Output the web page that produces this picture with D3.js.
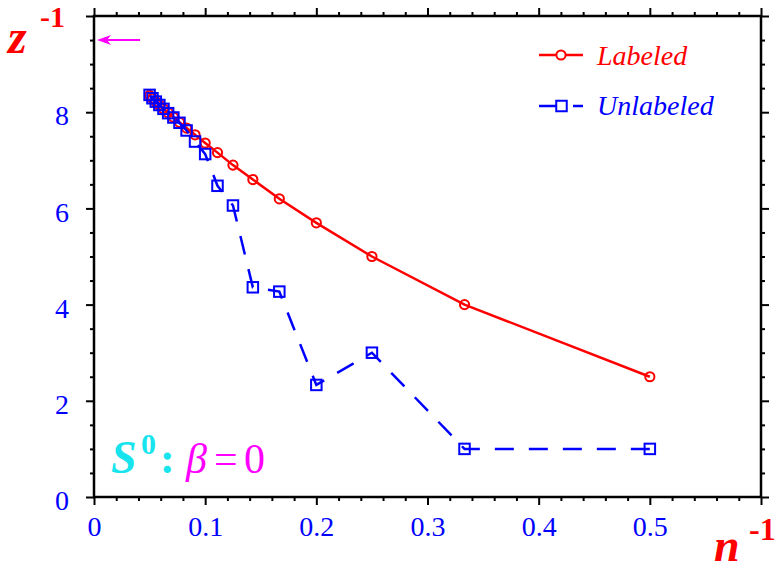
<!DOCTYPE html>
<html>
<head>
<meta charset="utf-8">
<script src="https://cdn.jsdelivr.net/npm/d3@7"></script>
<style>
  html, body { margin: 0; padding: 0; background: #fff; }
  svg { display: block; }
</style>
</head>
<body>
<svg id="chart" width="780" height="571"></svg>
<script>
// ---- data ----
const nInverse = [0.5, 0.3333, 0.25, 0.2, 0.1667, 0.1429, 0.125, 0.1111, 0.1, 0.0909,
                  0.0833, 0.0769, 0.0714, 0.0667, 0.0625, 0.0588, 0.0556, 0.0526, 0.05];
const labeledZ   = [2.5, 4.0, 5.0, 5.7, 6.2, 6.6, 6.9, 7.16, 7.36, 7.53,
                    7.67, 7.79, 7.9, 7.99, 8.07, 8.15, 8.22, 8.29, 8.35];
const unlabeledZ = [1.0, 1.0, 3.0, 2.33, 4.27, 4.36, 6.06, 6.47, 7.13, 7.39,
                    7.62, 7.78, 7.89, 7.98, 8.07, 8.15, 8.22, 8.29, 8.36];
const xMajorTicks = [0, 0.1, 0.2, 0.3, 0.4, 0.5];
const xTickLabels = ["0", "0.1", "0.2", "0.3", "0.4", "0.5"];
const yMajorTicks = [0, 2, 4, 6, 8];
const yTickLabels = ["0", "2", "4", "6", "8"];
const arrowValue = 9.5;
const seriesNames = ["Labeled", "Unlabeled"];

// ---- layout ----
const svg = d3.select("#chart");
const L = 94, R = 761, T = 16, B = 497;
const x = d3.scaleLinear().domain([0, 0.6]).range([L, R]);
const y = d3.scaleLinear().domain([0, 10]).range([B, T]);
const serif = "'Liberation Serif', 'Times New Roman', serif";
const BLUE = "#0000ff", RED = "#ff0000", MAG = "#ff00ff", CYAN = "#18e4ee";

const xMinor = d3.range(0, 0.6001, 0.02).filter(v => Math.abs(v * 10 - Math.round(v * 10)) > 1e-6);
const yMinor = d3.range(0, 10.001, 0.5).filter(v => Math.abs(v / 2 - Math.round(v / 2)) > 1e-6);

function styleAxis(g) {
  g.select(".domain").remove();
  g.selectAll(".tick line").attr("stroke", "#000").attr("stroke-width", 2);
}

// bottom major
svg.append("g").attr("transform", `translate(0,${B})`)
  .call(d3.axisBottom(x).tickValues(xMajorTicks).tickSize(8).tickPadding(11)
        .tickFormat((d, i) => xTickLabels[i]))
  .call(styleAxis)
  .call(g => g.selectAll("text").attr("fill", BLUE).style("font-family", serif).style("font-size", "28px"));
svg.append("g").attr("transform", `translate(0,${B})`)
  .call(d3.axisBottom(x).tickValues(xMinor).tickSize(4).tickFormat(""))
  .call(styleAxis);
// top (outward)
svg.append("g").attr("transform", `translate(0,${T})`)
  .call(d3.axisTop(x).tickValues(xMajorTicks.concat([0.6])).tickSize(8).tickFormat(""))
  .call(styleAxis);
svg.append("g").attr("transform", `translate(0,${T})`)
  .call(d3.axisTop(x).tickValues(xMinor).tickSize(4).tickFormat(""))
  .call(styleAxis);
// left
svg.append("g").attr("transform", `translate(${L},0)`)
  .call(d3.axisLeft(y).tickValues(yMajorTicks).tickSize(8).tickPadding(17)
        .tickFormat((d, i) => yTickLabels[i]))
  .call(styleAxis)
  .call(g => g.selectAll("text").attr("fill", BLUE).attr("dy", "0.45em")
        .style("font-family", serif).style("font-size", "28px"));
svg.append("g").attr("transform", `translate(${L},0)`)
  .call(d3.axisLeft(y).tickValues(yMinor).tickSize(4).tickFormat(""))
  .call(styleAxis);
svg.append("g").attr("transform", `translate(${L},0)`)
  .call(d3.axisLeft(y).tickValues([10]).tickSize(8).tickFormat(""))
  .call(styleAxis);
// right
svg.append("g").attr("transform", `translate(${R},0)`)
  .call(d3.axisRight(y).tickValues(yMajorTicks.concat([10])).tickSize(8).tickFormat(""))
  .call(styleAxis);
svg.append("g").attr("transform", `translate(${R},0)`)
  .call(d3.axisRight(y).tickValues(yMinor).tickSize(4).tickFormat(""))
  .call(styleAxis);
// bottom right corner tick
svg.append("g").attr("transform", `translate(0,${B})`)
  .call(d3.axisBottom(x).tickValues([0.6]).tickSize(8).tickFormat(""))
  .call(styleAxis);

// frame
svg.append("rect").attr("x", L).attr("y", T).attr("width", R - L).attr("height", B - T)
  .attr("fill", "none").attr("stroke", "#000").attr("stroke-width", 2.5);

// ---- series ----
const labeledData = nInverse.map((v, i) => [v, labeledZ[i]]);
const unlabeledData = nInverse.map((v, i) => [v, unlabeledZ[i]]);
const line = d3.line().x(d => x(d[0])).y(d => y(d[1]));

svg.append("path").datum(labeledData).attr("d", line)
  .attr("fill", "none").attr("stroke", RED).attr("stroke-width", 2.5);
svg.append("g").selectAll("circle").data(labeledData).join("circle")
  .attr("cx", d => x(d[0])).attr("cy", d => y(d[1])).attr("r", 4.6)
  .attr("fill", "none").attr("stroke", RED).attr("stroke-width", 2);

svg.append("path").datum(unlabeledData).attr("d", line)
  .attr("fill", "none").attr("stroke", BLUE).attr("stroke-width", 2.5)
  .attr("stroke-dasharray", "19,15");
const sq = 10.5;
svg.append("g").selectAll("rect").data(unlabeledData).join("rect")
  .attr("x", d => x(d[0]) - sq / 2).attr("y", d => y(d[1]) - sq / 2)
  .attr("width", sq).attr("height", sq)
  .attr("fill", "none").attr("stroke", BLUE).attr("stroke-width", 2);

// ---- legend ----
const lg = svg.append("g");
lg.append("line").attr("x1", 539).attr("x2", 583).attr("y1", 55).attr("y2", 55)
  .attr("stroke", RED).attr("stroke-width", 2.5);
lg.append("circle").attr("cx", 561).attr("cy", 55).attr("r", 4.6)
  .attr("fill", "#fff").attr("stroke", RED).attr("stroke-width", 2);
lg.append("text").attr("x", 597).attr("y", 65).text(seriesNames[0])
  .attr("fill", RED).style("font-family", serif).style("font-style", "italic").style("font-size", "28px");
lg.append("line").attr("x1", 539).attr("x2", 583).attr("y1", 106).attr("y2", 106)
  .attr("stroke", BLUE).attr("stroke-width", 2.5).attr("stroke-dasharray", "19,15");
lg.append("rect").attr("x", 561.5 - sq / 2).attr("y", 106 - sq / 2).attr("width", sq).attr("height", sq)
  .attr("fill", "#fff").attr("stroke", BLUE).attr("stroke-width", 2);
lg.append("text").attr("x", 597).attr("y", 115).text(seriesNames[1])
  .attr("fill", BLUE).style("font-family", serif).style("font-style", "italic").style("font-size", "28px");

// ---- axis titles ----
const zt = svg.append("text").attr("x", 8).attr("y", 53)
  .attr("fill", RED).style("font-family", serif).style("font-weight", "bold");
zt.append("tspan").text("z").style("font-style", "italic").style("font-size", "48px");
zt.append("tspan").text("-1").attr("x", 40).attr("y", 27).style("font-size", "30px");

const nt = svg.append("text").attr("x", 714).attr("y", 561)
  .attr("fill", RED).style("font-family", serif).style("font-weight", "bold");
nt.append("tspan").text("n").style("font-style", "italic").style("font-size", "46px");
nt.append("tspan").text("-1").attr("x", 749).attr("y", 540).style("font-size", "32px");

// ---- annotation ----
svg.append("text").attr("x", 111).attr("y", 473).text("S")
  .attr("fill", CYAN).style("font-family", serif).style("font-weight", "bold")
  .style("font-style", "italic").style("font-size", "46px");
svg.append("text").attr("x", 141).attr("y", 454).text("0")
  .attr("fill", CYAN).style("font-family", serif).style("font-weight", "bold").style("font-size", "30px");
svg.append("text").attr("x", 160).attr("y", 473).text(":")
  .attr("fill", CYAN).style("font-family", serif).style("font-weight", "bold").style("font-size", "44px");
const bt = svg.append("text").attr("x", 186).attr("y", 473)
  .attr("fill", MAG).style("font-family", serif).style("font-size", "42px");
bt.append("tspan").text("β").style("font-style", "italic");
bt.append("tspan").text("=").attr("x", 214);
bt.append("tspan").text("0").attr("x", 244);

// arrow
svg.append("line").attr("x1", x(0) + 46).attr("x2", x(0) + 10)
  .attr("y1", y(arrowValue)).attr("y2", y(arrowValue))
  .attr("stroke", MAG).attr("stroke-width", 2);
svg.append("path")
  .attr("d", `M${x(0) + 3},${y(arrowValue)} L${x(0) + 17},${y(arrowValue) - 5} L${x(0) + 13},${y(arrowValue)} L${x(0) + 17},${y(arrowValue) + 5} Z`)
  .attr("fill", MAG);
</script>
</body>
</html>
